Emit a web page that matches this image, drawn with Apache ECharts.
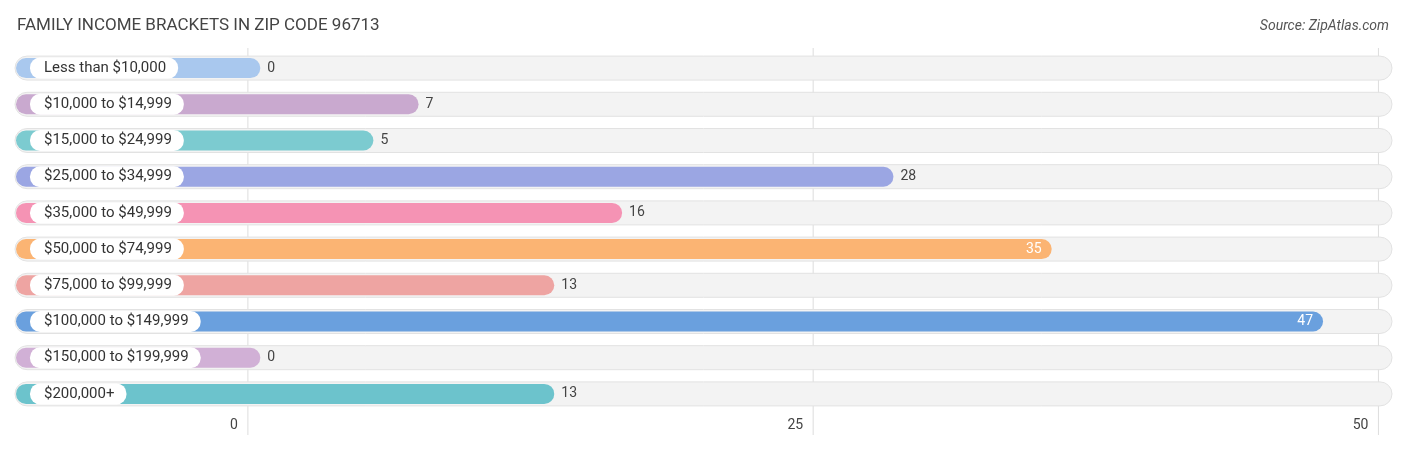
<!DOCTYPE html>
<html><head><meta charset="utf-8">
<script src="https://cdn.jsdelivr.net/npm/echarts@6/dist/echarts.min.js"></script>
<style>html,body{margin:0;padding:0;background:#fff}#c{width:1406px;height:450px}</style>
</head><body><div id="c"></div>
<script>
const categories = ["Less than $10,000","$10,000 to $14,999","$15,000 to $24,999","$25,000 to $34,999","$35,000 to $49,999","$50,000 to $74,999","$75,000 to $99,999","$100,000 to $149,999","$150,000 to $199,999","$200,000+"];
const values = [0,7,5,28,16,35,13,47,0,13];
const colors = ["#a9c8ee","#c9a9cf","#7ccbd0","#9ba6e3","#f593b4","#fbb473","#eea4a2","#6aa0de","#d1b0d6","#6cc3cc"];
const ticks = [0,25,50];
const XMIN = -10.3, XMAX = 50.6, CAP = 0.55;
const chart = echarts.init(document.getElementById('c'));
chart.setOption({
  animation:false,
  title:[{text:"FAMILY INCOME BRACKETS IN ZIP CODE 96713",left:12,top:12,textStyle:{fontFamily:"Roboto",fontWeight:'normal',fontSize:17,color:'#444'}},
         {text:"Source: ZipAtlas.com",right:12,top:14,textStyle:{fontFamily:"Roboto",fontStyle:'italic',fontWeight:'normal',fontSize:14,color:'#555'}}],
  grid:{left:15,right:14,top:50,bottom:38},
  xAxis:{type:'value',min:XMIN,max:XMAX,interval:25,
    splitLine:{show:false},axisLine:{show:false},axisTick:{show:false},
    axisLabel:{show:false}},
  yAxis:{type:'category',data:categories,inverse:true,show:false},
  series:[{
    type:'custom',
    data:values.map((v,i)=>[v,i]),
    renderItem:(params,api)=>{
      const i=api.value(1), v=api.value(0);
      const y=api.coord([0,i])[1];
      const x0=api.coord([XMIN,i])[0], x1=api.coord([XMAX,i])[0];
      const xe=api.coord([v+CAP,i])[0];
      const inside = v>=30;
      const children=[];
      if(i===0){
        ticks.forEach(t=>{
          const gx=api.coord([t,0])[0];
          children.push({type:'line',shape:{x1:gx,y1:48-y+y,x2:gx,y2:435},style:{stroke:'#ddd',lineWidth:1},z2:0});
          children.push({type:'text',style:{text:String(t),x:gx-10,y:425,align:'right',verticalAlign:'middle',font:'14px Roboto',fill:'#444'}});
        });
      }
      children.push({type:'rect',shape:{x:x0,y:y-12,width:x1-x0,height:24,r:12},style:{fill:'#f3f3f3',stroke:'#e2e2e2',lineWidth:1},z2:1});
      children.push({type:'rect',shape:{x:x0+1,y:y-10,width:xe-x0-1,height:20,r:10},style:{fill:colors[i]},z2:2});
      children.push({type:'text',style:{text:categories[i],x:x0+15,y:y,verticalAlign:'middle',font:'15px Roboto',fill:'#333',backgroundColor:'#fff',padding:[3,12,3,14],borderRadius:10},z2:3});
      children.push({type:'text',style:{text:String(v),x:inside?xe-10:xe+7,y:y,align:inside?'right':'left',verticalAlign:'middle',font:'14px Roboto',fill:inside?'#fff':'#444'},z2:4});
      return {type:'group',children};
    }
  }]
});
</script></body></html>
